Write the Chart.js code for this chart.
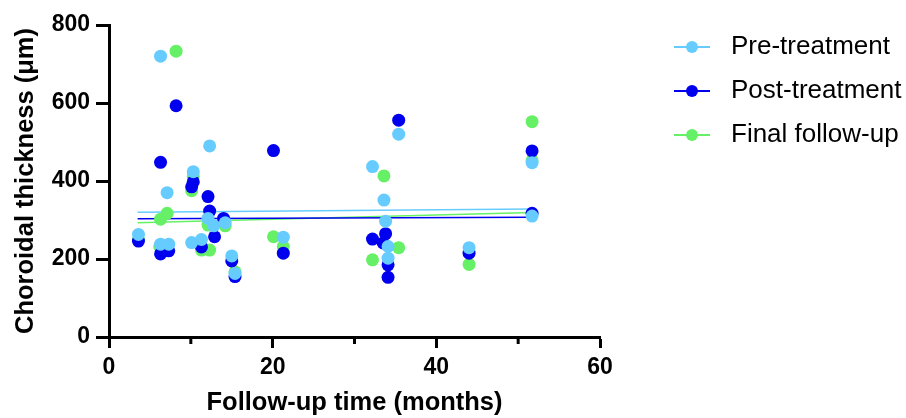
<!DOCTYPE html>
<html lang="en">
<head>
    <meta charset="UTF-8">
    <title>Choroidal thickness vs follow-up time</title>
    <script src="https://cdn.jsdelivr.net/npm/chart.js"></script>
    <style>
        body { margin: 0; background: #fff; }
    </style>
</head>
<body>
    <canvas id="thicknessChart" width="906" height="418"></canvas>
    <script>
        // [months, thickness in µm]
        const preTreatment = [
            [3.6, 263], [6.3, 720], [6.3, 238], [7.1, 370], [7.3, 238], [10.3, 424],
            [10.1, 242], [11.3, 250], [12.3, 490], [12.1, 304], [12.8, 285], [14.2, 293],
            [15.0, 208], [15.4, 163], [21.3, 256], [32.2, 437], [33.6, 351], [33.8, 297],
            [34.1, 232], [34.1, 202], [35.4, 520], [44.0, 229], [51.7, 447], [51.7, 310]
        ];
        const postTreatment = [
            [3.6, 246], [6.3, 448], [6.3, 213], [7.3, 221], [8.2, 593], [10.3, 398],
            [10.1, 385], [11.3, 231], [12.1, 360], [12.3, 323], [12.9, 257], [14.0, 304],
            [15.0, 195], [15.4, 155], [20.1, 478], [21.3, 215], [32.2, 251], [33.8, 265],
            [33.5, 241], [34.1, 185], [34.1, 153], [35.4, 556], [44.0, 215], [51.7, 477],
            [51.7, 317]
        ];
        const finalFollowUp = [
            [3.6, 250], [6.2, 232], [6.3, 302], [7.1, 317], [8.2, 733], [10.1, 375],
            [10.3, 412], [11.3, 223], [12.3, 223], [12.1, 287], [14.2, 285], [15.4, 167],
            [20.1, 257], [21.3, 232], [32.2, 198], [33.6, 413], [35.4, 229], [44.0, 186],
            [51.7, 552], [51.7, 452]
        ];

        // linear fit lines, end points
        const preFit = [[3.5, 320], [51.7, 328]];
        const postFit = [[3.5, 303], [51.7, 307]];
        const finalFit = [[3.5, 293], [51.7, 319]];

        const seriesNames = ['Pre-treatment', 'Post-treatment', 'Final follow-up'];
        const xTicks = [0, 20, 40, 60];
        const xMinorTicks = [10, 30, 50];
        const yTicks = [0, 200, 400, 600, 800];

        const colors = ['#66ccff', '#0000ee', '#66f066'];
        const font = "'Liberation Sans', Arial, sans-serif";

        const toPoints = arr => arr.map(p => ({ x: p[0], y: p[1] }));

        // legend marker: short line with a dot, drawn on the right of a wide box
        function legendMarker(color) {
            const c = document.createElement('canvas');
            c.width = 100;
            c.height = 14;
            const g = c.getContext('2d');
            g.strokeStyle = color;
            g.lineWidth = 2;
            g.beginPath();
            g.moveTo(56, 7);
            g.lineTo(92, 7);
            g.stroke();
            g.fillStyle = color;
            g.beginPath();
            g.arc(74, 7, 6, 0, Math.PI * 2);
            g.fill();
            return c;
        }

        const scatterSets = [preTreatment, postTreatment, finalFollowUp].map((d, i) => ({
            type: 'scatter',
            label: seriesNames[i],
            data: toPoints(d),
            backgroundColor: colors[i],
            borderWidth: 0,
            pointRadius: 6.5,
            order: 0
        }));

        const fitSets = [preFit, postFit, finalFit].map((d, i) => ({
            type: 'line',
            label: seriesNames[i] + ' fit',
            data: toPoints(d),
            borderColor: colors[i],
            borderWidth: 1.5,
            pointRadius: 0,
            fill: false,
            order: 1
        }));

        const minorTickPlugin = {
            id: 'minorTicks',
            afterDraw(chart) {
                const { ctx, scales: { x } } = chart;
                ctx.save();
                ctx.strokeStyle = '#000';
                ctx.lineWidth = 3;
                xMinorTicks.forEach(v => {
                    const px = x.getPixelForValue(v);
                    ctx.beginPath();
                    ctx.moveTo(px, x.top);
                    ctx.lineTo(px, x.top + 7);
                    ctx.stroke();
                });
                ctx.restore();
            }
        };

        // the layout caps the legend box width; stretch it to the canvas edge so labels aren't clipped
        const wideLegendPlugin = {
            id: 'wideLegend',
            afterLayout(chart) {
                const l = chart.legend;
                if (l) {
                    l.right = chart.width;
                    l.width = l.right - l.left;
                }
            }
        };

        const ctx = document.getElementById('thicknessChart').getContext('2d');
        new Chart(ctx, {
            data: { datasets: [...scatterSets, ...fitSets] },
            plugins: [minorTickPlugin, wideLegendPlugin],
            options: {
                responsive: false,
                animation: false,
                devicePixelRatio: 1,
                layout: { padding: { top: 16, right: 0, bottom: 0, left: 0 } },
                plugins: {
                    tooltip: { enabled: false },
                    legend: {
                        position: 'right',
                        align: 'start',
                        labels: {
                            usePointStyle: true,
                            pointStyleWidth: 100,
                            padding: 18,
                            color: '#000',
                            font: { family: font, size: 26 },
                            filter: item => item.datasetIndex < 3,
                            generateLabels: chart => Chart.defaults.plugins.legend.labels.generateLabels(chart)
                                .map(item => Object.assign(item, { pointStyle: legendMarker(colors[item.datasetIndex] || '#000') }))
                        }
                    }
                },
                scales: {
                    x: {
                        type: 'linear',
                        min: 0,
                        max: 60,
                        // leave room on the right for the legend column
                        afterFit: s => { s.height = 81; s.paddingRight = 306; },
                        afterBuildTicks: s => { s.ticks = xTicks.map(v => ({ value: v })); },
                        ticks: {
                            padding: 6,
                            color: '#000',
                            font: { family: font, size: 23, weight: 'bold' }
                        },
                        grid: {
                            drawOnChartArea: false,
                            drawTicks: true,
                            tickLength: 11,
                            tickWidth: 3,
                            tickColor: '#000',
                            color: '#000'
                        },
                        border: { display: true, color: '#000', width: 3 },
                        title: {
                            display: true,
                            text: 'Follow-up time (months)',
                            color: '#000',
                            font: { family: font, size: 25.5, weight: 'bold' },
                            padding: { top: 0, bottom: 0 }
                        }
                    },
                    y: {
                        type: 'linear',
                        min: 0,
                        max: 800,
                        afterFit: s => { s.width = 109; s.paddingTop = 25; },
                        afterBuildTicks: s => { s.ticks = yTicks.map(v => ({ value: v })); },
                        ticks: {
                            padding: 6,
                            color: '#000',
                            font: { family: font, size: 23, weight: 'bold' }
                        },
                        grid: {
                            drawOnChartArea: false,
                            drawTicks: true,
                            tickLength: 13,
                            tickWidth: 3,
                            tickColor: '#000',
                            color: '#000'
                        },
                        border: { display: true, color: '#000', width: 3 },
                        title: {
                            display: true,
                            text: 'Choroidal thickness (μm)',
                            color: '#000',
                            font: { family: font, size: 25.5, weight: 'bold' },
                            padding: { top: 11, bottom: 0 }
                        }
                    }
                }
            }
        });
    </script>
</body>
</html>
